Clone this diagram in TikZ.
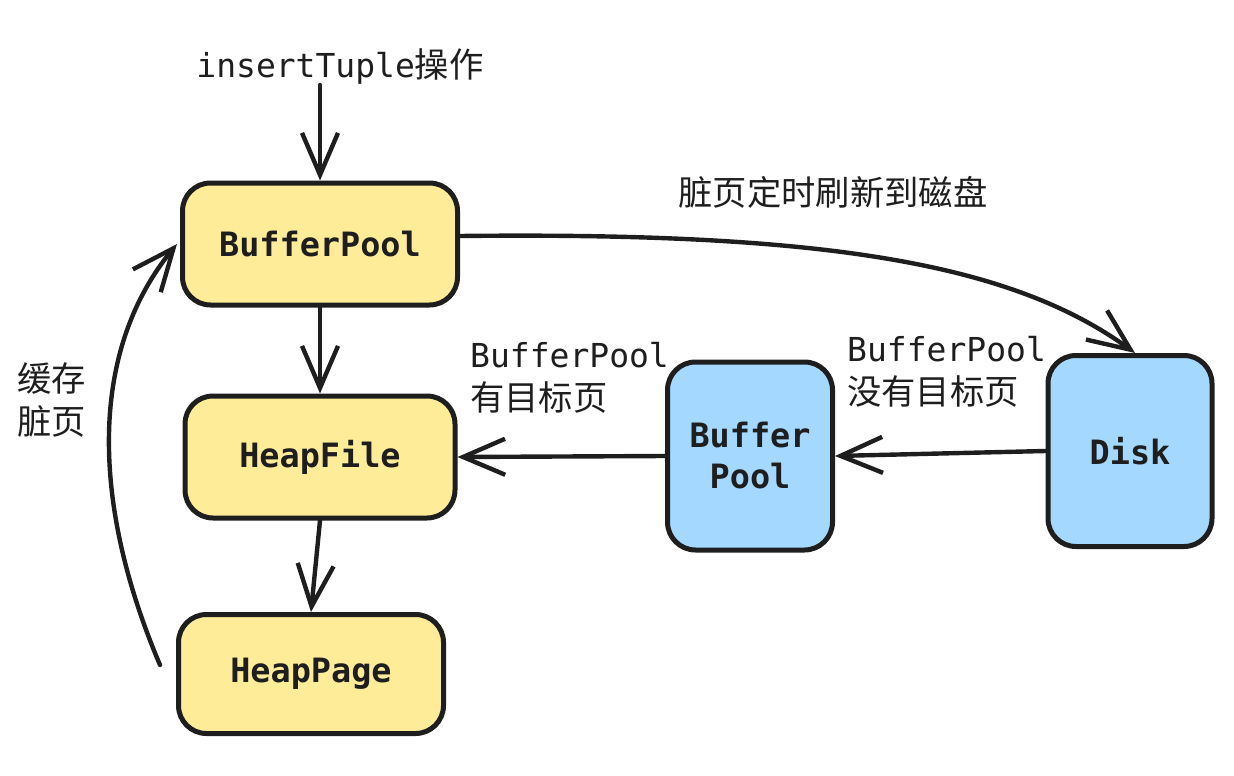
\documentclass[tikz,border=0pt]{standalone}
\usepackage{fontspec}
\setmonofont{DejaVu Sans Mono}
\newfontfamily\cjk{Noto Sans CJK SC}[Scale=1.04]
\usetikzlibrary{arrows.meta,positioning}
\definecolor{ink}{HTML}{1E1E1E}
\definecolor{pageyellow}{HTML}{FFEC99}
\definecolor{diskblue}{HTML}{A5D8FF}

\begin{document}
\begin{tikzpicture}[x=1pt, y=-1pt,
  every node/.style={text=ink, font=\ttfamily\fontsize{33}{43}\selectfont},
  ybox/.style={draw=ink, line width=5pt, fill=pageyellow, rounded corners=28pt,
    font=\ttfamily\bfseries\fontsize{33.5}{41}\selectfont},
  bbox/.style={ybox, fill=diskblue, align=center},
  lbl/.style={align=left, inner sep=0pt},
  arr/.style={draw=ink, line width=4.4pt, line cap=round,
    -{Straight Barb[length=42pt, width=36pt, line width=4.4pt]}}]
  \useasboundingbox (0,0) rectangle (1234,776);
  % storage chain
  \node[ybox, minimum width=275pt, minimum height=122pt] (bp) at (320,244) {BufferPool};
  \node[ybox, minimum width=270pt, minimum height=122pt] (hf) at (320,457) {HeapFile};
  \node[ybox, minimum width=265pt, minimum height=119pt] (hp) at (311,674) {HeapPage};
  \node[bbox, minimum width=165pt, minimum height=188pt] (pool) at (750,456) {Buffer\\Pool};
  \node[bbox, minimum width=164pt, minimum height=191pt] (disk) at (1130,451) {Disk};
  % labels
  \node[lbl] (ins) at (340,67) {insertTuple{\cjk 操作}};
  \node[lbl] (flush) at (833,192) {\cjk 脏页定时刷新到磁盘};
  \node[lbl, anchor=north west] (hit) at (470,342) {BufferPool\\{\cjk 有目标页}};
  \node[lbl, anchor=north west] (miss) at (847,336) {BufferPool\\{\cjk 没有目标页}};
  \node[lbl, anchor=north west] (cache) at (17,362) {\cjk 缓存\\\cjk 脏页};
  \coordinate (dirty) at (160,665);
  % connectors
  \draw[arr] (ins.south -| bp.north) -- (bp.north);
  \draw[arr] (bp.south) -- (hf.north);
  \draw[arr] (hf.south) -- (hp.north);
  \draw[arr] (pool.west) -- (hf.east);
  \draw[arr] (disk.west) -- (pool.east);
  \draw[arr] ([yshift=8pt]bp.east) .. controls (820,232) and (1010,262) .. ([xshift=5pt]disk.north);
  \draw[arr] (dirty) .. controls (90,500) and (90,350) .. ([xshift=-3pt]bp.west);
\end{tikzpicture}
\end{document}
